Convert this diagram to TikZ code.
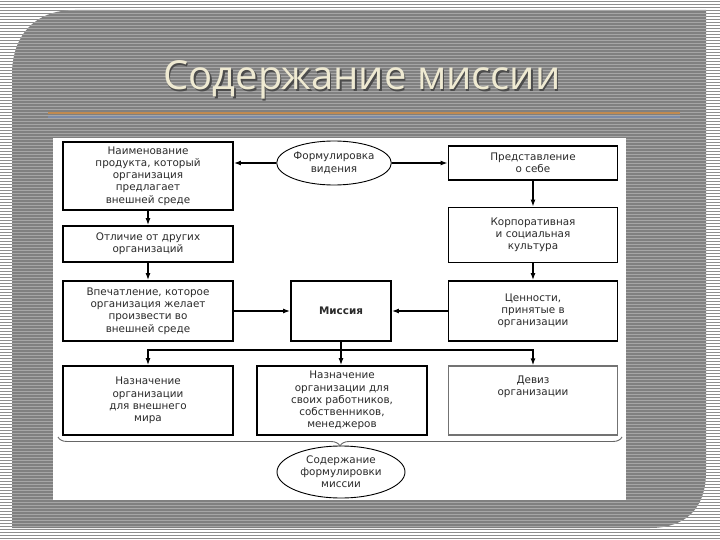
\documentclass[tikz,border=0pt]{standalone}
\usepackage{fontspec}
\setmainfont{DejaVu Sans}
\newfontfamily\titlefont{Open Sans}
\usetikzlibrary{arrows.meta,shapes.geometric,decorations.pathreplacing,calc}

\definecolor{slidegray}{HTML}{808080}
\definecolor{stripegray}{HTML}{8E8E8E}
\definecolor{titlecream}{HTML}{EFEAD2}
\definecolor{rulebrown}{HTML}{C08A50}
\definecolor{ruleblue}{HTML}{7D8BA6}
\definecolor{textgray}{HTML}{2A2A2A}

\begin{document}
\begin{tikzpicture}
%Mission content slide
	[
	 %Styles
	 x=1pt, y=-1pt,
	 >={Latex[length=7pt,width=5pt]},
	 box_node/.style={rectangle,draw=black,line width=1.8pt,fill=white,align=center,
	   font=\fontsize{10.4}{12.2}\selectfont,text=textgray,inner sep=2pt},
	 soft_node/.style={box_node,draw=black!55,line width=1.2pt},
	 oval_node/.style={ellipse,draw=black,line width=0.9pt,fill=white,align=center,
	   font=\fontsize{10.4}{12.2}\selectfont,text=textgray,inner sep=0pt},
	 link/.style={line width=1.6pt}
	]

	%Background
	\useasboundingbox (0,0) rectangle (720,540);
	\fill[stripegray] (0,0) rectangle (720,540);
	\foreach \k in {0,3,...,540}
	  \draw[white,line width=1.3pt] (0,\k) -- (720,\k);
	\fill[slidegray] (12,528) -- (12,75) .. controls (12,35) and (35,10) .. (75,10)
	  -- (706,10) -- (706,472) .. controls (706,508) and (686,528) .. (650,528) -- cycle;
	\begin{scope}
	  \clip (12,528) -- (12,75) .. controls (12,35) and (35,10) .. (75,10)
	    -- (706,10) -- (706,472) .. controls (706,508) and (686,528) .. (650,528) -- cycle;
	  \foreach \k in {1,4,...,540}
	    \draw[black!35,line width=0.8pt] (0,\k) -- (720,\k);
	\end{scope}

	%Title
	\node (titleshadow) at (363.5,81.5) {\titlefont\fontsize{40}{44}\selectfont\color{black!70}Содержание миссии};
	\node (title) at (362,80) {\titlefont\fontsize{40}{44}\selectfont\color{titlecream}Содержание миссии};
	\draw[rulebrown,line width=1.8pt] (48,113) -- (680,113);
	\draw[ruleblue,line width=2.2pt] (48,117) -- (680,117);

	%Card
	\fill[white] (53,138) rectangle (626,500);

	%Node placement
	\node (name) [box_node,minimum width=170pt,minimum height=68pt] at (148,176)
	  {Наименование\\продукта, который\\организация\\предлагает\\внешней среде};
	\node (vision) [oval_node,minimum width=114pt,minimum height=44pt] at (334,163)
	  {Формулировка\\видения};
	\node (self) [box_node,minimum width=169pt,minimum height=34pt] at (533,163)
	  {Представление\\о себе};
	\node (differ) [box_node,minimum width=170pt,minimum height=36pt] at (148,244)
	  {Отличие от других\\организаций};
	\node (culture) [box_node,minimum width=169pt,minimum height=55pt] at (533,235)
	  {Корпоративная\\и социальная\\культура};
	\node (impress) [box_node,minimum width=170pt,minimum height=60pt] at (148,311)
	  {Впечатление, которое\\организация желает\\произвести во\\внешней среде};
	\node (mission) [box_node,minimum width=100pt,minimum height=60pt,font=\bfseries\fontsize{10.4}{12.2}\selectfont] at (341,311)
	  {Миссия};
	\node (values) [box_node,minimum width=169pt,minimum height=60pt] at (533,311)
	  {Ценности,\\принятые в\\организации};
	\node (outer) [box_node,minimum width=170pt,minimum height=69pt] at (148,400.5)
	  {Назначение\\организации\\для внешнего\\мира};
	\node (staff) [box_node,minimum width=170pt,minimum height=69pt] at (342,400.5)
	  {Назначение\\организации для\\своих работников,\\собственников,\\менеджеров};
	\node (motto) [soft_node,minimum width=169pt,minimum height=69pt,
	  label={[anchor=north,yshift=-7pt,align=center,font=\fontsize{10.4}{12.2}\selectfont,text=textgray]north:{Девиз\\организации}}] at (533,400.5) {};
	\node (content) [oval_node,minimum width=128pt,minimum height=52pt] at (341,472)
	  {Содержание\\формулировки\\миссии};

	%Edges
	\path[link]
	  (vision.west) edge [->] (vision.west -| name.east)
	  (vision.east) edge [->] (self.west)
	  (name) edge [->] (differ)
	  (differ) edge [->] (impress)
	  (self) edge [->] (culture)
	  (culture) edge [->] (values)
	  (impress) edge [->] (mission)
	  (values) edge [->] (mission)
	  (mission.south) edge [->] (mission.south |- staff.north);
	\coordinate (split) at ($(mission.south)+(0,8)$);
	\draw[link,->] (split) -| (outer.north);
	\draw[link,->] (split) -| (motto.north);

	%Brace
	\draw[black!60,line width=0.9pt,decorate,decoration={brace,amplitude=9pt,mirror}]
	  (58,437) -- (622,437);
\end{tikzpicture}
\end{document}
